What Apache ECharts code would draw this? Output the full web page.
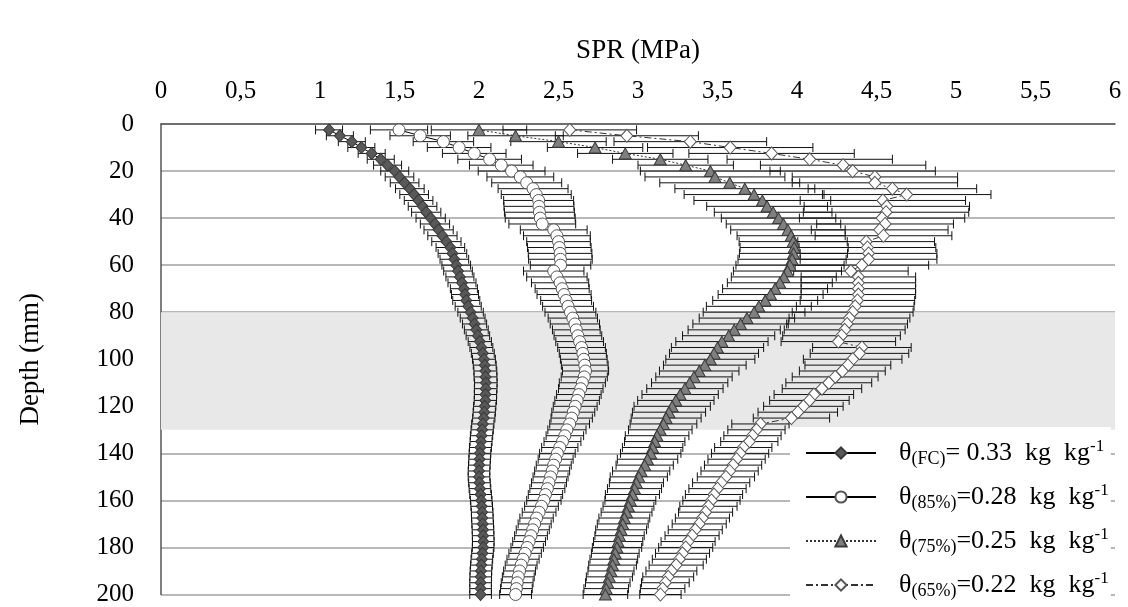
<!DOCTYPE html>
<html>
<head>
<meta charset="utf-8">
<script src="https://cdn.jsdelivr.net/npm/echarts@6/dist/echarts.min.js"></script>
<style>
html,body{margin:0;padding:0;background:#fff;}
#chart{width:1128px;height:607px;}
</style>
</head>
<body>
<div id="chart"></div>
<script>
// ---- data ----
const depth = [2.5,5,7.5,10,12.5,15,17.5,20,22.5,25,27.5,30,32.5,35,37.5,40,42.5,45,47.5,50,
  52.5,55,57.5,60,62.5,65,67.5,70,72.5,75,77.5,80,82.5,85,87.5,90,92.5,95,97.5,100,
  102.5,105,107.5,110,112.5,115,117.5,120,122.5,125,127.5,130,132.5,135,137.5,140,142.5,145,147.5,150,
  152.5,155,157.5,160,162.5,165,167.5,170,172.5,175,177.5,180,182.5,185,187.5,190,192.5,195,197.5,200];

const sprFC = [1.057,1.125,1.200,1.260,1.325,1.382,1.425,1.470,1.500,1.532,
  1.565,1.592,1.620,1.645,1.668,1.696,1.723,1.746,1.770,1.795,
  1.820,1.833,1.845,1.857,1.868,1.880,1.893,1.905,1.912,1.920,
  1.932,1.947,1.960,1.972,1.983,1.993,2.005,2.015,2.024,2.031,
  2.036,2.040,2.041,2.043,2.042,2.041,2.040,2.036,2.033,2.030,
  2.024,2.020,2.016,2.013,2.009,2.006,2.004,2.002,2.000,2.000,
  2.003,2.006,2.010,2.014,2.017,2.020,2.021,2.023,2.025,2.026,
  2.027,2.026,2.022,2.018,2.015,2.012,2.011,2.010,2.010,2.010];
const errFC = [.085,.085,.085,.085,.085,.085,.088,.088,.09,.09,
  .09,.09,.09,.09,.092,.092,.092,.092,.092,.092,
  .09,.09,.09,.09,.09,.088,.088,.085,.085,.085,
  .082,.08,.078,.076,.075,.074,.073,.072,.072,.072,
  .072,.072,.072,.071,.071,.07,.07,.07,.07,.07,
  .07,.07,.07,.069,.069,.068,.068,.068,.068,.068,
  .068,.068,.068,.068,.068,.068,.068,.068,.068,.068,
  .068,.068,.068,.068,.068,.068,.068,.068,.068,.068];

const spr85 = [1.497,1.630,1.776,1.875,1.970,2.067,2.140,2.205,2.260,2.300,
  2.340,2.360,2.375,2.377,2.380,2.385,2.398,2.470,2.490,2.500,
  2.505,2.510,2.512,2.513,2.470,2.490,2.510,2.523,2.535,2.548,
  2.560,2.575,2.590,2.603,2.612,2.622,2.633,2.645,2.653,2.659,
  2.665,2.670,2.662,2.650,2.640,2.628,2.617,2.605,2.593,2.583,
  2.570,2.553,2.540,2.525,2.508,2.493,2.482,2.470,2.460,2.450,
  2.440,2.430,2.418,2.408,2.393,2.378,2.362,2.350,2.338,2.327,
  2.315,2.303,2.290,2.277,2.265,2.255,2.247,2.240,2.235,2.230];
const err85 = [.18,.19,.19,.2,.2,.2,.2,.21,.21,.22,
  .22,.22,.22,.22,.22,.22,.21,.21,.21,.2,
  .2,.2,.2,.19,.19,.19,.18,.17,.17,.16,
  .16,.16,.155,.155,.15,.15,.15,.15,.148,.147,
  .147,.145,.145,.145,.14,.14,.14,.138,.135,.13,
  .125,.12,.118,.116,.114,.112,.11,.11,.11,.11,
  .11,.11,.108,.108,.106,.106,.105,.104,.104,.103,
  .103,.102,.102,.101,.1,.1,.1,.1,.1,.1];

const spr75 = [2.000,2.230,2.500,2.730,2.920,3.140,3.300,3.455,3.484,3.577,
  3.672,3.730,3.782,3.812,3.850,3.884,3.915,3.943,3.963,3.976,
  3.982,3.978,3.969,3.956,3.940,3.917,3.892,3.862,3.834,3.800,
  3.760,3.730,3.685,3.645,3.605,3.570,3.528,3.500,3.478,3.455,
  3.420,3.385,3.352,3.325,3.295,3.265,3.238,3.215,3.195,3.177,
  3.160,3.140,3.120,3.105,3.092,3.080,3.060,3.042,3.020,3.005,
  2.990,2.978,2.965,2.952,2.940,2.928,2.914,2.904,2.894,2.884,
  2.875,2.868,2.857,2.848,2.840,2.830,2.820,2.810,2.800,2.795];
const err75 = [.3,.3,.3,.3,.3,.3,.3,.44,.44,.44,
  .44,.44,.43,.38,.37,.36,.36,.36,.34,.34,
  .34,.34,.34,.34,.34,.33,.33,.33,.33,.33,
  .33,.32,.3,.3,.29,.29,.29,.29,.28,.28,
  .26,.25,.24,.24,.24,.24,.24,.24,.23,.22,
  .21,.2,.2,.19,.19,.19,.19,.18,.18,.18,
  .17,.17,.17,.16,.16,.16,.16,.16,.16,.155,
  .155,.155,.15,.15,.15,.145,.145,.14,.14,.14];

const spr65 = [2.571,2.930,3.329,3.580,3.840,4.080,4.290,4.350,4.490,4.490,
  4.600,4.690,4.540,4.565,4.560,4.535,4.554,4.520,4.544,4.435,
  4.443,4.450,4.450,4.408,4.339,4.386,4.386,4.386,4.386,4.380,
  4.366,4.350,4.330,4.315,4.300,4.280,4.260,4.408,4.393,4.350,
  4.320,4.285,4.240,4.200,4.157,4.106,4.078,4.040,4.005,3.965,
  3.770,3.745,3.720,3.700,3.662,3.642,3.620,3.598,3.576,3.553,
  3.523,3.500,3.478,3.462,3.443,3.425,3.405,3.385,3.360,3.340,
  3.315,3.300,3.280,3.260,3.240,3.210,3.190,3.172,3.155,3.141];
const err65 = [.42,.45,.48,.52,.52,.52,.52,.52,.52,.52,
  .53,.53,.52,.52,.52,.52,.43,.43,.43,.43,
  .43,.43,.43,.42,.36,.36,.36,.36,.36,.36,
  .37,.38,.38,.38,.38,.37,.36,.31,.31,.31,
  .27,.27,.27,.27,.25,.25,.25,.25,.25,.24,
  .18,.18,.18,.18,.18,.18,.18,.18,.18,.18,
  .18,.18,.18,.18,.18,.17,.17,.17,.17,.17,
  .17,.17,.17,.17,.17,.16,.16,.15,.14,.13];

const xTicks = [0,0.5,1,1.5,2,2.5,3,3.5,4,4.5,5,5.5,6];
const yTicks = [0,20,40,60,80,100,120,140,160,180,200];
const bandRange = [80, 130];
const seriesNames = ['FC','85%','75%','65%'];
const legendSub = ['(FC)','(85%)','(75%)','(65%)'];
const legendVal = ['= 0.33  kg  kg','=0.28  kg  kg','=0.25  kg  kg','=0.22  kg  kg'];

// ---- chart ----
const FONT = '"Liberation Serif","Times New Roman",serif';
const chart = echarts.init(document.getElementById('chart'), null, {renderer:'canvas'});

function pts(vals){ return depth.map((d,i)=>[vals[i], d]); }
function errPts(vals, errs){ return depth.map((d,i)=>[vals[i], d, errs[i]]); }

function renderErr(params, api){
  const x = api.value(0), y = api.value(1), e = api.value(2);
  const l = api.coord([x - e, y]), r = api.coord([x + e, y]);
  const cap = 4.5;
  const st = {stroke:'#111', lineWidth:1};
  return {type:'group', children:[
    {type:'line', shape:{x1:l[0], y1:l[1], x2:r[0], y2:r[1]}, style:st},
    {type:'line', shape:{x1:l[0], y1:l[1]-cap, x2:l[0], y2:l[1]+cap}, style:st},
    {type:'line', shape:{x1:r[0], y1:r[1]-cap, x2:r[0], y2:r[1]+cap}, style:st}
  ]};
}
function errSeries(vals, errs){
  return {type:'custom', renderItem:renderErr, data:errPts(vals, errs),
    encode:{x:0, y:1}, z:2, silent:true, clip:false};
}

const seriesStyles = [
  {symbol:'diamond', symbolSize:[11,12], fill:'#595959', border:'#3a3a3a', line:{color:'#000', width:1, type:'solid'}},
  {symbol:'circle', symbolSize:12, fill:'#ffffff', border:'#555', line:{color:'#000', width:1, type:'solid'}},
  {symbol:'triangle', symbolSize:[12,11], fill:'#7f7f7f', border:'#3a3a3a', line:{color:'#333', width:1, type:[2,2]}},
  {symbol:'diamond', symbolSize:[12,13], fill:'#ffffff', border:'#555', line:{color:'#333', width:1, type:[7,3,2,3]}}
];
const allVals = [sprFC, spr85, spr75, spr65];
const allErrs = [errFC, err85, err75, err65];

const series = [];
// shaded band
series.push({type:'line', name:'band', data:[], z:-1, silent:true,
  markArea:{silent:true, itemStyle:{color:'#e8e8e8'},
    data:[[{yAxis:bandRange[0]},{yAxis:bandRange[1]}]]}});
allVals.forEach((v,i)=>series.push(errSeries(v, allErrs[i])));
allVals.forEach((v,i)=>{
  const s = seriesStyles[i];
  series.push({type:'line', name:seriesNames[i], data:pts(v), z:3,
    symbol:s.symbol, symbolSize:s.symbolSize, showAllSymbol:true,
    itemStyle:{color:s.fill, borderColor:s.border, borderWidth:1},
    lineStyle:s.line, emphasis:{disabled:true}, animation:false});
});

const option = {
  animation:false,
  backgroundColor:'#fff',
  grid:{left:161, top:124, width:954, height:471, containLabel:false},
  xAxis:{type:'value', position:'top', min:xTicks[0], max:xTicks[xTicks.length-1], interval:0.5,
    name:'SPR (MPa)', nameLocation:'middle', nameGap:60,
    nameTextStyle:{fontFamily:FONT, fontSize:27, color:'#000'},
    axisLine:{show:true, lineStyle:{color:'#555', width:1.5}},
    axisTick:{show:false}, splitLine:{show:false},
    axisLabel:{fontFamily:FONT, fontSize:25, color:'#000', margin:20,
      showMinLabel:true, showMaxLabel:true,
      formatter:v=>String(v).replace('.', ',')}},
  yAxis:{type:'value', inverse:true, min:yTicks[0], max:yTicks[yTicks.length-1], interval:20,
    name:'Depth (mm)', nameLocation:'middle', nameGap:117, nameRotate:90,
    nameTextStyle:{fontFamily:FONT, fontSize:27, color:'#000'},
    axisLine:{show:true, lineStyle:{color:'#555', width:1.5}},
    axisTick:{show:false},
    splitLine:{show:true, lineStyle:{color:'#a0a0a0', width:1.5}},
    axisLabel:{fontFamily:FONT, fontSize:25, color:'#000', margin:27}},
  legend:{orient:'vertical', left:790, top:427, padding:[11,2,7,15],
    itemGap:14, itemWidth:70, itemHeight:14, backgroundColor:'#fff',
    data:seriesNames, selectedMode:false,
    formatter:function(name){
      const i = seriesNames.indexOf(name);
      return '{t|θ}{s|' + legendSub[i] + '}{t|' + legendVal[i] + '}{p|-1}';
    },
    textStyle:{fontFamily:FONT, fontSize:26, color:'#000', padding:[0,0,0,18],
      rich:{
        t:{fontFamily:FONT, fontSize:26, lineHeight:30, verticalAlign:'middle', color:'#000'},
        s:{fontFamily:FONT, fontSize:18, lineHeight:17, verticalAlign:'bottom', color:'#000'},
        p:{fontFamily:FONT, fontSize:17, lineHeight:17, verticalAlign:'top', color:'#000'}
      }}},
  series:series
};
chart.setOption(option);
</script>
</body>
</html>
